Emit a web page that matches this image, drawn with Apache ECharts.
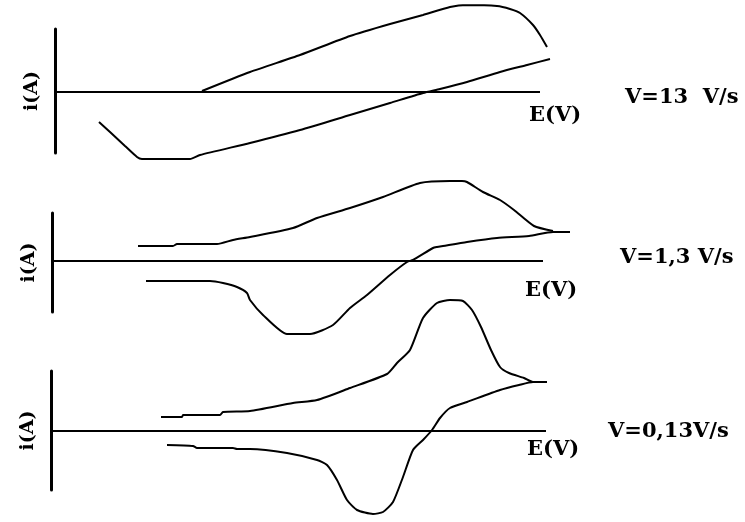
<!DOCTYPE html>
<html>
<head>
<meta charset="utf-8">
<script src="https://cdn.jsdelivr.net/npm/echarts@6/dist/echarts.min.js"></script>
<style>html,body{margin:0;padding:0;background:#fff}#c{width:745px;height:522px}</style>
</head>
<body>
<div id="c"></div>
<script>
// Values: [E (arbitrary units), i (arbitrary units)]
// Panel 1: V = 13 V/s
const p1Reduction = [[44,-30],[55,-40],[70,-54],[82,-65],[87,-67],[135,-67],[145,-63],[195,-51],[245,-38],[295,-23],[335,-11],[368,-1],[385,3],[412,10],[445,20],[472,27],[495,33]];
const p1Oxidation = [[492,45],[485,57],[478,67],[465,79],[455,83],[442,86],[412,87],[395,85],[368,77],[335,68],[295,56],[245,37],[195,20],[147,1]];
// Panel 2: V = 1,3 V/s
const p2Oxidation = [[86,15],[121,15],[125,17],[165,17],[181,21],[198,24],[241,33],[265,43],[298,53],[331,64],[368,78],[398,80],[410,80],[415,79],[431,69],[448,61],[462,51],[482,35],[501,30]];
const p2Reduction = [[94,-20],[158,-20],[171,-22],[185,-26],[195,-32],[198,-39],[211,-54],[235,-73],[258,-73],[281,-64],[298,-47],[315,-34],[338,-14],[355,-1],[361,1],[381,13],[385,14],[391,15],[415,19],[445,23],[477,25],[501,29],[518,29]];
// Panel 3: V = 0,13 V/s
const p3Oxidation = [[110,14],[131,14],[132,16],[169,16],[172,19],[199,20],[242,28],[266,31],[299,43],[336,57],[346,68],[359,81],[372,113],[386,128],[399,131],[412,130],[421,121],[430,104],[440,81],[449,64],[458,58],[473,53],[482,49],[496,49]];
const p3Reduction = [[116,-14],[142,-15],[146,-17],[182,-17],[186,-18],[199,-18],[236,-22],[266,-29],[276,-34],[286,-49],[296,-69],[306,-79],[322,-83],[332,-81],[342,-71],[352,-46],[362,-19],[372,-9],[381,1],[389,13],[399,23],[416,29],[449,41],[468,46],[482,49],[496,49]];

const scanLabels = ['V=13  V/s', 'V=1,3 V/s', 'V=0,13V/s'];
const xName = 'E(V)';
const yName = 'i(A)';
const xRanges = [[0,495],[0,518],[0,496]];
const zeroLineEnd = [485, 491, 495];
const yRanges = [[-61,63],[-51,48],[-59,60]];

const serif = 'DejaVu Serif';
const grids = [
  {left:55, top:29, width:495, height:124},
  {left:52, top:213, width:518, height:99},
  {left:51, top:371, width:496, height:119}
];
const labelPos = [
  {v:[625,87], e:[529,105]},
  {v:[620,247], e:[525,280]},
  {v:[608,421], e:[527,439]}
];

const xAxis = [], yAxis = [], title = [];
grids.forEach((g,i)=>{
  xAxis.push({type:'value', gridIndex:i, min:xRanges[i][0], max:xRanges[i][1],
    axisLine:{show:false}, axisTick:{show:false}, axisLabel:{show:false}, splitLine:{show:false}});
  yAxis.push({type:'value', gridIndex:i, min:yRanges[i][0], max:yRanges[i][1],
    name:yName, nameLocation:'middle', nameGap:13, nameRotate:90,
    nameTextStyle:{fontFamily:serif, fontWeight:'bold', fontSize:19, color:'#000'},
    axisLine:{show:true,onZero:false,lineStyle:{color:'#000',width:3}},
    axisTick:{show:false}, axisLabel:{show:false}, splitLine:{show:false}});
  title.push({text:scanLabels[i], left:labelPos[i].v[0], top:labelPos[i].v[1], padding:0,
    textStyle:{fontFamily:serif, fontWeight:'bold', fontSize:21, color:'#000'}});
  title.push({text:xName, left:labelPos[i].e[0], top:labelPos[i].e[1], padding:0,
    textStyle:{fontFamily:serif, fontWeight:'bold', fontSize:21, color:'#000'}});
});

const mk = (data, idx, withZero) => {
  const s = {type:'line', data, xAxisIndex:idx, yAxisIndex:idx, showSymbol:false,
    smooth:0.2, clip:false, lineStyle:{color:'#000', width:2}, silent:true};
  if (withZero) {
    s.markLine = {silent:true, symbol:['none','none'], label:{show:false},
      lineStyle:{color:'#000', width:2, type:'solid'},
      data:[[{coord:[0,0]},{coord:[zeroLineEnd[idx],0]}]]};
  }
  return s;
};

const chart = echarts.init(document.getElementById('c'));
chart.setOption({
  backgroundColor:'#fff',
  animation:false,
  title, grid:grids, xAxis, yAxis,
  series:[mk(p1Reduction,0,true), mk(p1Oxidation,0), mk(p2Oxidation,1,true), mk(p2Reduction,1), mk(p3Oxidation,2,true), mk(p3Reduction,2)]
});
</script>
</body>
</html>
